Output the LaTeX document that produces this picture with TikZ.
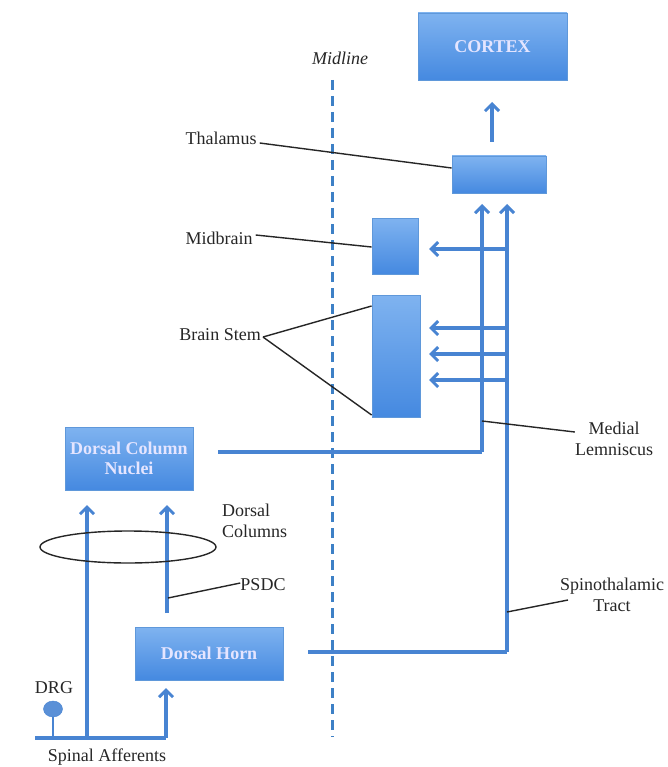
\documentclass[tikz,border=0pt]{standalone}
\usepackage{fontspec}
\setmainfont{Liberation Serif}
\usetikzlibrary{arrows.meta,shapes.geometric}
\definecolor{boxtop}{HTML}{7FB3F0}
\definecolor{boxbot}{HTML}{4589E0}
\definecolor{boxedge}{HTML}{5F98DA}
\definecolor{tract}{HTML}{4884D2}
\definecolor{mid}{HTML}{3D80C6}
\tikzset{
  region/.style={draw=boxedge, line width=0.8pt, top color=boxtop, bottom color=boxbot, inner sep=0pt,
    font=\fontsize{18}{20}\selectfont\bfseries, text=white!90!blue, align=center},
  lbl/.style={font=\fontsize{18}{21}\selectfont, text=black!85, inner sep=0pt, align=center},
  tr/.style={draw=tract, line width=3.2pt},
  tra/.style={tr, -{Straight Barb[length=7pt,width=14pt,line width=3pt]}},
  pointer/.style={draw=black!85, line width=1.4pt},
  midl/.style={draw=mid, line width=3pt, dash pattern=on 10pt off 6pt}
}
\begin{document}
\begin{tikzpicture}[x=1pt,y=-1pt]
\useasboundingbox (0,0) rectangle (667,767);
% midline
\coordinate (mtop) at (332,80);
\coordinate (mbot) at (332,737);
\draw[midl] (mtop) -- (mbot);
\node[lbl, font=\fontsize{18}{21}\selectfont\itshape] (midline) at (340,58) {Midline};
% boxes
\node[region, minimum width=149pt, minimum height=67pt] (cortex) at (492.5,46.5) {CORTEX};
\node[region, minimum width=94pt, minimum height=37pt] (thal) at (499,174.5) {};
\node[region, minimum width=46pt, minimum height=56pt] (midb) at (395,246) {};
\node[region, minimum width=48pt, minimum height=122pt] (bstem) at (396,356) {};
\node[region, minimum width=128pt, minimum height=63pt] (dcn) at (129,458.5) {Dorsal Column\\Nuclei};
\node[region, minimum width=148pt, minimum height=53pt] (dhorn) at (209,653.5) {Dorsal Horn};
% thalamus to cortex
\coordinate (tc) at (492,142);
\coordinate (tctop) at (492,102);
\draw[tra] (tc) -- (tctop);
% tracts
\coordinate (ml0) at (218,452);
\coordinate (mlc) at (482,452);
\coordinate (mltop) at (482,204);
\draw[tr] (ml0) -- (mlc);
\draw[tra] (mlc) -- (mltop);
\coordinate (st0) at (308,652);
\coordinate (stc) at (507,652);
\coordinate (sttop) at (507,204);
\draw[tr] (st0) -- (stc);
\draw[tra] (stc) -- (sttop);
% collaterals
\coordinate (c1) at (507,249);
\coordinate (c2) at (507,328);
\coordinate (c3) at (507,354);
\coordinate (c4) at (507,380);
\draw[tra] (c1) -- (429,249);
\draw[tra] (c2) -- (429,328);
\draw[tra] (c3) -- (429,354);
\draw[tra] (c4) -- (429,380);
% spinal afferents
\coordinate (sa0) at (35,738);
\coordinate (sa1) at (87,738);
\coordinate (sa2) at (166,738);
\draw[tr] (sa0) -- (sa2);
\draw[tra] (sa2) -- (166,688);
\draw[tra] (sa1) -- (87,505);
\coordinate (psdc0) at (167,613);
\draw[tra] (psdc0) -- (167,505);
% DRG
\coordinate (drgst) at (53,738);
\node[ellipse, fill=tract!90, draw=tract, minimum width=19pt, minimum height=16pt, inner sep=0pt] (drg) at (53,709) {};
\draw[draw=tract, line width=2.6pt] (drg.south) -- (drgst);
% ellipse
\node[ellipse, draw=black!85, line width=1.4pt, minimum width=176pt, minimum height=32pt, inner sep=0pt] (dcol) at (128,547) {};
% labels
\node[lbl] (thl) at (221,138) {Thalamus};
\node[lbl] (mbl) at (219,238) {Midbrain};
\node[lbl] (bsl) at (220,335) {Brain Stem};
\node[lbl] (mll) at (614,439) {Medial\\Lemniscus};
\node[lbl] (stl) at (612,595) {Spinothalamic\\Tract};
\node[lbl, align=left, anchor=west] (dcl) at (222,521) {Dorsal\\Columns};
\node[lbl] (psl) at (263,585) {PSDC};
\node[lbl] (drgl) at (54,688) {DRG};
\node[lbl] (sal) at (107,757) {Spinal Afferents};
% pointers
\draw[pointer] (thl.east) ++(3,5) -- (thal.west |- 0,168);
\draw[pointer] (mbl.east) ++(3,-3) -- (midb.west |- 0,247);
\draw[pointer] (bsl.east) ++(2,2) -- (bstem.west |- 0,306);
\draw[pointer] (bsl.east) ++(2,2) -- (bstem.west |- 0,415);
\draw[pointer] (482,421) -- (mll.west |- 0,432);
\draw[pointer] (507,612) -- (568,600);
\draw[pointer] (168,598) -- (psl.west |- 0,583);
\end{tikzpicture}
\end{document}
